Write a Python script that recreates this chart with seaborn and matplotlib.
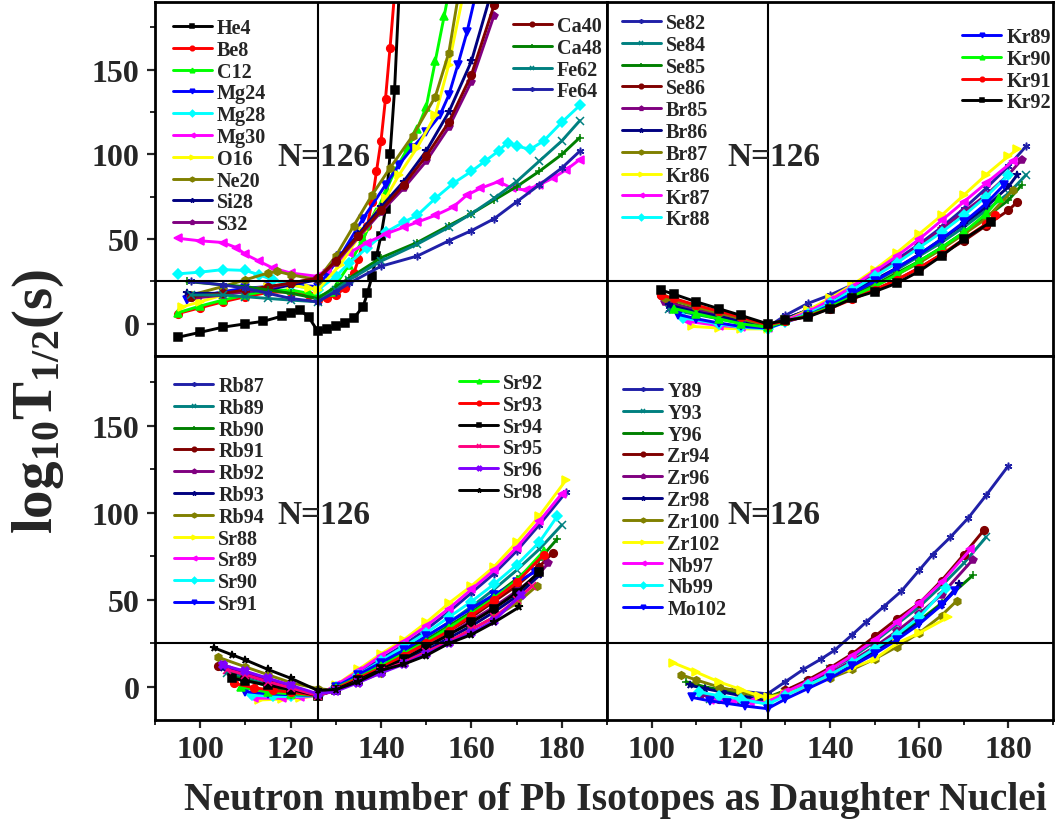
import matplotlib
matplotlib.use("Agg")
import matplotlib.pyplot as plt
import seaborn as sns

# ---------------- data: log10 T1/2 (s) vs neutron number of daughter Pb ----------------
# panel (a) light clusters
He4_N = [95, 100, 105, 110, 114, 118, 120, 122, 124, 126, 128, 130, 132, 134, 136, 137, 138, 139, 140, 141, 142, 143, 144]
He4_T = [-8, -5, -2, 0, 1.5, 4.5, 6.5, 8.3, 4, -4.3, -3, -1.5, 0.5, 3.5, 10, 18, 28, 40, 52, 68, 100, 138, 195]
Be8_N = [95, 100, 105, 110, 115, 120, 124, 126, 128, 130, 132, 134, 135, 137, 138, 139, 140, 141, 142, 143]
Be8_T = [6, 9.5, 13, 16, 18.5, 19, 17, 14, 15, 17, 21, 30, 38, 58, 72, 90, 108, 133, 163, 195]
C12_N = [95, 100, 105, 110, 115, 120, 124, 126, 129, 133, 136, 139, 141, 143, 146, 148, 150, 152, 154, 155]
C12_T = [6.5, 10.5, 14, 17, 19.5, 20, 18, 16, 19, 35, 50, 66, 78, 90, 104, 115, 128, 155, 182, 196]
Mg24_N = [97, 100, 105, 110, 115, 120, 126, 128, 131, 136, 141, 144, 147, 150, 153, 155, 157, 159, 161]
Mg24_T = [14, 16, 19, 21, 22, 23, 22, 29, 40, 62, 82, 94, 104, 113, 123, 135, 153, 172, 195]
Mg28_N = [95, 100, 105, 110, 113, 116, 120, 126, 130, 133, 137, 141, 145, 148, 152, 156, 160, 163, 166, 168, 170, 173, 176, 180, 184]
Mg28_T = [29.5, 30.5, 32, 31.5, 29, 26, 23, 20, 28, 36, 45, 54, 60, 64, 74, 83, 90, 96, 102, 107, 105, 103, 108, 119, 129]
Mg30_N = [95, 100, 105, 108, 110, 113, 116, 120, 126, 128, 133, 137, 141, 145, 148, 152, 156, 159, 162, 166, 169, 172, 175, 178, 181, 184]
Mg30_T = [50.5, 49, 48, 45, 41, 37, 33, 30, 28, 32, 42, 48, 53, 57, 60, 64, 69, 76, 80, 84, 80, 79, 82, 86, 91, 97]
O16_N = [96, 100, 105, 110, 115, 120, 124, 126, 131, 136, 141, 144, 148, 152, 155, 158]
O16_T = [10, 13, 17, 20, 22, 23, 21, 20, 35, 55, 74, 88, 104, 123, 153, 192]
Ne20_N = [98, 105, 110, 115, 117, 120, 126, 130, 134, 138, 142, 147, 152, 155, 157]
Ne20_T = [17, 22, 26, 30, 31, 29, 26, 40, 58, 76, 92, 111, 134, 160, 192]
Si28_N = [97, 105, 110, 115, 120, 126, 130, 135, 140, 145, 150, 155, 160, 164]
Si28_T = [18, 18, 19, 20, 23, 26, 37, 53, 69, 84, 102, 125, 155, 192]
S32_N = [98, 105, 110, 115, 120, 126, 130, 135, 140, 145, 150, 155, 160, 165]
S32_T = [15, 17, 19, 21, 24, 27, 36, 51, 66, 80, 96, 116, 143, 182]
Ca40_N = [98, 105, 110, 115, 120, 126, 130, 135, 140, 145, 150, 155, 160, 165]
Ca40_T = [16, 18, 20, 22, 24, 27, 37, 52, 67, 82, 99, 119, 147, 188]
Ca48_N = [97, 105, 110, 115, 120, 126, 130, 133, 140, 148, 155, 160, 165, 170, 175, 180, 184]
Ca48_T = [25, 23, 22, 20, 18, 15, 22, 27, 39, 48, 58, 65, 73, 81, 90, 100, 110]
Fe62_N = [98, 105, 110, 115, 120, 126, 130, 133, 140, 148, 155, 160, 165, 170, 175, 180, 184]
Fe62_T = [17, 17, 16, 15, 14, 13, 20, 26, 37, 47, 57, 65, 74, 84, 96, 108, 120]
Fe64_N = [98, 105, 110, 115, 120, 126, 130, 133, 140, 148, 155, 160, 165, 170, 175, 180, 184]
Fe64_T = [25, 23, 21, 18, 15, 13, 19, 24, 34, 40, 49, 55, 62, 72, 82, 92, 102]

# panel (b) Se, Br, Kr
Se82_N = [104, 110, 115, 120, 126, 130, 135, 140, 145, 150, 155, 160, 165, 170, 175, 180, 184]
Se82_T = [9, 6, 3.5, 1, -2, 5, 12, 17, 23, 30, 38, 47, 57, 68, 80, 93, 105]
Se84_N = [104, 110, 115, 120, 126, 130, 135, 140, 145, 150, 155, 160, 165, 170, 175, 180, 184]
Se84_T = [8.5, 5.5, 3, 0.5, -2, 3, 8, 13, 19, 25, 32, 40, 48, 57, 67, 77, 88]
Se85_N = [104, 110, 115, 120, 126, 130, 135, 140, 145, 150, 155, 160, 165, 170, 175, 180, 183]
Se85_T = [12.4, 8.5, 5.5, 2.5, -1.5, 2.5, 7, 12, 17, 23, 30, 37, 45, 54, 63, 73, 82]
Se86_N = [102, 105, 110, 115, 120, 126, 130, 135, 140, 145, 150, 155, 160, 165, 170, 175, 180, 182]
Se86_T = [17, 14, 10.5, 7, 3.5, -0.5, 2, 5.5, 10, 15, 20, 26, 33, 41, 49, 58, 67, 72]
Br85_N = [103, 110, 115, 120, 126, 130, 135, 140, 145, 150, 155, 160, 165, 170, 175, 180, 183]
Br85_T = [13, 8, 5, 2, -1.5, 3, 8, 14, 21, 29, 37, 46, 56, 66, 76, 88, 97]
Br86_N = [104, 110, 115, 120, 126, 130, 135, 140, 145, 150, 155, 160, 165, 170, 175, 180, 182]
Br86_T = [11, 7, 4.5, 1.5, -1.5, 3, 8, 13, 19, 26, 33, 41, 50, 59, 69, 81, 88]
Br87_N = [103, 110, 115, 120, 126, 130, 135, 140, 145, 150, 155, 160, 165, 170, 175, 181]
Br87_T = [15, 10, 6.5, 3, -1, 2.5, 6, 11, 16, 22, 29, 36, 44, 53, 62, 79]
Kr86_N = [109, 115, 120, 126, 130, 135, 140, 145, 150, 155, 160, 165, 170, 175, 180, 182]
Kr86_T = [-1.5, -2.5, -3, -3, 2, 8, 15, 23, 32, 42, 53, 64, 76, 88, 99, 103]
Kr87_N = [108, 115, 120, 126, 130, 135, 140, 145, 150, 155, 160, 165, 170, 175, 181]
Kr87_T = [1.5, -1, -2, -2.5, 2, 7, 14, 22, 31, 40, 50, 61, 72, 83, 96]
Kr88_N = [107, 115, 120, 126, 130, 135, 140, 145, 150, 155, 160, 165, 170, 175, 180]
Kr88_T = [3.5, 0, -2, -3, 1, 6, 12, 20, 28, 36, 45, 54, 64, 75, 88]
Kr89_N = [106, 110, 115, 120, 126, 130, 135, 140, 145, 150, 155, 160, 165, 170, 175, 179]
Kr89_T = [5.5, 3, 0.5, -1.5, -2.5, 1, 5, 11, 18, 25, 33, 41, 50, 60, 71, 82]
Kr90_N = [105, 110, 115, 120, 126, 130, 135, 140, 145, 150, 155, 160, 165, 170, 175, 178]
Kr90_T = [9, 6, 3, 0, -2, 1.5, 5, 10, 16, 22, 29, 37, 45, 54, 65, 74]
Kr91_N = [102, 105, 110, 115, 120, 126, 130, 135, 140, 145, 150, 155, 160, 165, 170, 175, 177]
Kr91_T = [17, 15, 11, 7.5, 4, -0.5, 1.5, 4.5, 9, 14.5, 20, 26, 33, 41, 50, 59, 64.5]
Kr92_N = [102, 105, 110, 115, 120, 126, 130, 135, 140, 145, 150, 155, 160, 165, 170, 176]
Kr92_T = [20, 17.5, 13, 9, 5, 0, 2, 4, 9, 15, 19, 24, 31, 40, 50, 60]

# panel (c) Rb, Sr
Rb87_N = [106, 110, 115, 120, 126, 130, 135, 140, 145, 150, 155, 160, 165, 170, 175, 181]
Rb87_T = [9, 5, 1, -2, -5, 0, 8, 16, 24, 33, 43, 54, 65, 78, 93, 112]
Rb89_N = [106, 110, 115, 120, 126, 130, 135, 140, 145, 150, 155, 160, 165, 170, 175, 180]
Rb89_T = [8, 5, 1, -2, -5, 0, 7, 14, 21, 29, 37, 46, 56, 67, 79, 93]
Rb90_N = [107, 110, 115, 120, 126, 130, 135, 140, 145, 150, 155, 160, 165, 170, 175, 179]
Rb90_T = [6, 4, 0.5, -2.5, -5, -0.5, 6, 13, 20, 27, 35, 43, 52, 62, 73, 85]
Rb91_N = [104, 110, 115, 120, 126, 130, 135, 140, 145, 150, 155, 160, 165, 170, 175, 178]
Rb91_T = [12, 7, 3, -1, -5, -1, 5, 11, 18, 25, 32, 40, 49, 58, 69, 77]
Rb92_N = [105, 110, 115, 120, 126, 130, 135, 140, 145, 150, 155, 160, 165, 170, 175, 177]
Rb92_T = [12.8, 8, 4, 0, -5, -1.5, 4, 10, 16, 23, 30, 38, 46, 55, 65, 71]
Rb93_N = [105, 110, 115, 120, 126, 130, 135, 140, 145, 150, 155, 160, 165, 170, 175]
Rb93_T = [11, 7, 3, -0.5, -5, -2, 3.5, 9, 15, 21, 28, 35, 43, 52, 64]
Rb94_N = [104, 110, 115, 120, 126, 130, 135, 140, 145, 150, 155, 160, 165, 170, 174.5]
Rb94_T = [17, 11.5, 7, 2.5, -1, -2, 3, 8, 14, 20, 26, 33, 40, 48, 58]
Sr88_N = [113, 118, 122, 126, 130, 135, 140, 145, 150, 155, 160, 165, 170, 175, 181]
Sr88_T = [-7.5, -7, -6.5, -5, 1, 10, 19, 27, 37, 48, 58, 69, 83, 98, 119]
Sr89_N = [112, 118, 122, 126, 130, 135, 140, 145, 150, 155, 160, 165, 170, 175, 180]
Sr89_T = [-6.5, -6.5, -6, -5, 1, 9, 18, 26, 35, 45, 56, 67, 80, 95, 111]
Sr90_N = [111.5, 116, 120, 126, 130, 135, 140, 145, 150, 155, 160, 165, 170, 175, 179]
Sr90_T = [-4.7, -5.5, -5.5, -5, 0, 7, 15, 23, 31, 40, 49, 59, 70, 83, 98]
Sr91_N = [110, 115, 120, 126, 130, 135, 140, 145, 150, 155, 160, 165, 170, 174]
Sr91_T = [-2.7, -4, -4.5, -5, 0, 7, 14, 21, 29, 37, 45, 53, 60, 66]
Sr92_N = [109, 115, 120, 126, 130, 135, 140, 145, 150, 155, 160, 165, 170, 176]
Sr92_T = [0, -3, -4, -5, -0.5, 5.5, 12, 19, 26, 34, 42, 51, 61, 78]
Sr93_N = [107.5, 112, 116, 120, 126, 130, 135, 140, 145, 150, 155, 160, 165, 170, 176]
Sr93_T = [2, -0.5, -2, -3, -5, -1, 5, 11, 18, 25, 32, 41, 50, 60, 76]
Sr94_N = [107, 110, 115, 120, 126, 130, 135, 140, 145, 150, 155, 160, 165, 170, 175]
Sr94_T = [5, 3.5, 1, -1.5, -5, -1.5, 4, 10, 16, 23, 30, 37, 45, 54, 66]
Sr95_N = [106, 110, 115, 120, 126, 130, 135, 140, 145, 150, 155, 160, 165, 170, 173.5]
Sr95_T = [9.9, 7, 3, -0.5, -5, -2, 3, 9, 14, 20, 26, 33, 40, 50, 58]
Sr96_N = [105, 110, 115, 120, 126, 130, 135, 140, 145, 150, 155, 160, 165, 171]
Sr96_T = [12.5, 9, 5, 1, -4, -2.5, 2.5, 8, 13, 19, 25, 31, 38, 53]
Sr98_N = [103, 107, 110, 115, 120, 126, 130, 135, 140, 145, 150, 155, 160, 165, 170.5]
Sr98_T = [22.5, 18.5, 15.5, 10, 5, -2, -1.5, 3, 9.5, 13, 18, 25, 30, 37, 45.7]

# panel (d) Y, Zr, Nb, Mo
Y89_N = [118, 126, 130, 134, 138, 141, 145, 148, 152, 156, 160, 163, 167, 171, 175, 180]
Y89_T = [-2, -4, 3, 10, 16, 21, 30, 37, 46, 55, 67, 76, 86, 97, 110, 127]
Y93_N = [113, 120, 126, 130, 135, 140, 145, 150, 155, 160, 165, 170, 175]
Y93_T = [-7, -7.5, -8, -3, 3, 10, 17, 26, 36, 46, 58, 71, 86]
Y96_N = [107.7, 112, 116, 120, 126, 130, 135, 140, 145, 150, 155, 160, 165, 172]
Y96_T = [3, 0, -2, -3.5, -6, -2, 3, 8, 14, 21, 29, 38, 48, 64]
Zr94_N = [115, 120, 126, 130, 135, 140, 145, 150, 155, 160, 165, 170, 174.5]
Zr94_T = [-7, -7.5, -8, -2, 4, 11, 19, 29, 39, 48, 61, 76, 90]
Zr96_N = [111, 115, 120, 126, 130, 135, 140, 145, 150, 155, 160, 165, 172]
Zr96_T = [-4.7, -6, -7, -9, -4, 2, 8, 15, 23, 32, 42, 53, 73]
Zr98_N = [108.5, 112, 116, 120, 126, 130, 135, 140, 145, 150, 155, 160, 165, 169]
Zr98_T = [1, -1, -3, -5, -8, -4, 1.5, 7, 13, 20, 28, 37, 47, 59]
Zr100_N = [106.6, 110, 115, 120, 126, 130, 135, 140, 145, 150, 155, 160, 165, 168.5]
Zr100_T = [7, 4, 0, -3, -6, -3, 1, 5, 10, 16, 23, 31, 41, 49.6]
Zr102_N = [104.7, 110, 115, 120, 124, 126, 130, 135, 140, 145, 150, 155, 160, 166.5]
Zr102_T = [14, 8.5, 3, -1.5, -5, -6, -4, 0, 6, 11, 16, 25, 31, 40]
Nb97_N = [113, 118, 122, 126, 130, 135, 140, 145, 150, 155, 160, 165, 171.5]
Nb97_T = [-7.5, -8, -8.5, -9, -3, 3, 10, 18, 27, 37, 48, 60, 79]
Nb99_N = [110.7, 115, 120, 126, 130, 135, 140, 145, 150, 155, 160, 166]
Nb99_T = [-3, -5, -7, -10, -5, 1, 7, 14, 22, 30, 40, 57]
Mo102_N = [109, 113, 117, 121, 126, 130, 135, 140, 145, 150, 155, 160, 165, 168]
Mo102_T = [-6, -8, -9.5, -11, -12.5, -7, -1, 5, 12, 19, 27, 36, 47, 55]

# Origin-style colours and symbols
BLACK, RED, LIME, BLUE = "#000000", "#FF0000", "#00FF00", "#0000FF"
CYAN, MAGENTA, YELLOW, OLIVE = "#00FFFF", "#FF00FF", "#FFFF00", "#808000"
NAVY, PURPLE, WINE, DKGREEN = "#000080", "#800080", "#800000", "#008000"
DKCYAN, ROYAL, PINK, VIOLET = "#008080", "#2020A8", "#FF0080", "#8000FF"
AST = (6, 2, 0)

panel_a = [
    ("He4", He4_N, He4_T, BLACK, "s"), ("Be8", Be8_N, Be8_T, RED, "o"),
    ("C12", C12_N, C12_T, LIME, "^"), ("Mg24", Mg24_N, Mg24_T, BLUE, "v"),
    ("Mg28", Mg28_N, Mg28_T, CYAN, "D"), ("Mg30", Mg30_N, Mg30_T, MAGENTA, "<"),
    ("O16", O16_N, O16_T, YELLOW, ">"), ("Ne20", Ne20_N, Ne20_T, OLIVE, "h"),
    ("Si28", Si28_N, Si28_T, NAVY, "*"), ("S32", S32_N, S32_T, PURPLE, "p"),
    ("Ca40", Ca40_N, Ca40_T, WINE, "o"), ("Ca48", Ca48_N, Ca48_T, DKGREEN, "+"),
    ("Fe62", Fe62_N, Fe62_T, DKCYAN, "x"), ("Fe64", Fe64_N, Fe64_T, ROYAL, AST),
]
panel_b = [
    ("Se82", Se82_N, Se82_T, ROYAL, AST), ("Se84", Se84_N, Se84_T, DKCYAN, "x"),
    ("Se85", Se85_N, Se85_T, DKGREEN, "+"), ("Se86", Se86_N, Se86_T, WINE, "o"),
    ("Br85", Br85_N, Br85_T, PURPLE, "p"), ("Br86", Br86_N, Br86_T, NAVY, "*"),
    ("Br87", Br87_N, Br87_T, OLIVE, "h"), ("Kr86", Kr86_N, Kr86_T, YELLOW, ">"),
    ("Kr87", Kr87_N, Kr87_T, MAGENTA, "<"), ("Kr88", Kr88_N, Kr88_T, CYAN, "D"),
    ("Kr89", Kr89_N, Kr89_T, BLUE, "v"), ("Kr90", Kr90_N, Kr90_T, LIME, "^"),
    ("Kr91", Kr91_N, Kr91_T, RED, "o"), ("Kr92", Kr92_N, Kr92_T, BLACK, "s"),
]
panel_c = [
    ("Rb87", Rb87_N, Rb87_T, ROYAL, AST), ("Rb89", Rb89_N, Rb89_T, DKCYAN, "x"),
    ("Rb90", Rb90_N, Rb90_T, DKGREEN, "+"), ("Rb91", Rb91_N, Rb91_T, WINE, "o"),
    ("Rb92", Rb92_N, Rb92_T, PURPLE, "p"), ("Rb93", Rb93_N, Rb93_T, NAVY, "*"),
    ("Rb94", Rb94_N, Rb94_T, OLIVE, "h"), ("Sr88", Sr88_N, Sr88_T, YELLOW, ">"),
    ("Sr89", Sr89_N, Sr89_T, MAGENTA, "<"), ("Sr90", Sr90_N, Sr90_T, CYAN, "D"),
    ("Sr91", Sr91_N, Sr91_T, BLUE, "v"), ("Sr92", Sr92_N, Sr92_T, LIME, "^"),
    ("Sr93", Sr93_N, Sr93_T, RED, "o"), ("Sr94", Sr94_N, Sr94_T, BLACK, "s"),
    ("Sr95", Sr95_N, Sr95_T, PINK, "x"), ("Sr96", Sr96_N, Sr96_T, VIOLET, "X"),
    ("Sr98", Sr98_N, Sr98_T, BLACK, "*"),
]
panel_d = [
    ("Y89", Y89_N, Y89_T, ROYAL, AST), ("Y93", Y93_N, Y93_T, DKCYAN, "x"),
    ("Y96", Y96_N, Y96_T, DKGREEN, "+"), ("Zr94", Zr94_N, Zr94_T, WINE, "o"),
    ("Zr96", Zr96_N, Zr96_T, PURPLE, "p"), ("Zr98", Zr98_N, Zr98_T, NAVY, "*"),
    ("Zr100", Zr100_N, Zr100_T, OLIVE, "h"), ("Zr102", Zr102_N, Zr102_T, YELLOW, ">"),
    ("Nb97", Nb97_N, Nb97_T, MAGENTA, "<"), ("Nb99", Nb99_N, Nb99_T, CYAN, "D"),
    ("Mo102", Mo102_N, Mo102_T, BLUE, "v"),
]

# ---------------- style ----------------
sns.set_theme(style="ticks")
plt.rcParams["font.family"] = ["Liberation Serif", "DejaVu Serif"]
plt.rcParams["font.weight"] = "bold"
plt.rcParams["mathtext.fontset"] = "custom"
plt.rcParams["mathtext.rm"] = "Liberation Serif:bold"
plt.rcParams["mathtext.bf"] = "Liberation Serif:bold"
plt.rcParams["mathtext.it"] = "Liberation Serif:bold"

W, H = 1056, 829
fig = plt.figure(figsize=(W / 100, H / 100), dpi=100)

# pixel boxes: left, right, top, bottom
boxes = {
    "a": (155, 607, 3, 357),
    "b": (607, 1053, 3, 357),
    "c": (155, 607, 357, 721),
    "d": (607, 1053, 357, 721),
}
legend_font = {"family": "Liberation Serif", "weight": "bold", "size": 14.5}


def make_ax(box):
    l, r, t, b = box
    return fig.add_axes([l / W, 1 - b / H, (r - l) / W, (b - t) / H])


def put_legend(ax, box, handles, labels, x_px, y_px):
    l, r, t, b = box
    leg = ax.legend(handles, labels, loc="upper left",
                    bbox_to_anchor=((x_px - l) / (r - l), 1 - (y_px - t) / (b - t)),
                    frameon=False, borderpad=0, borderaxespad=0,
                    handlelength=1.95, handletextpad=0.25, labelspacing=0.09,
                    markerscale=0.6, prop=legend_font)
    return leg


def draw_panel(key, series, split, leg1, leg2, xmax):
    box = boxes[key]
    ax = make_ax(box)
    for name, n, t, col, mk in series:
        sns.lineplot(x=n, y=t, ax=ax, color=col, marker=mk, markersize=5.5,
                     markeredgecolor=col, markeredgewidth=1.1, linewidth=2.1,
                     label=name, estimator=None, sort=False)
    ax.axvline(126, color="black", lw=1.5, zorder=5)
    ax.axhline(25, color="black", lw=1.5, zorder=5)
    ax.text(127.4, 99, "N=126", ha="center", va="center", fontsize=24,
            fontweight="bold", zorder=6)
    ax.set_xlim(90, xmax)
    ax.set_ylim(-19, 190)
    for s in ax.spines.values():
        s.set_linewidth(2.0)
        s.set_color("black")
    handles, labels = ax.get_legend_handles_labels()
    first = put_legend(ax, box, handles[:split], labels[:split], *leg1)
    if leg2 is not None:
        ax.add_artist(first)
        put_legend(ax, box, handles[split:], labels[split:], *leg2)
    return ax


ax_a = draw_panel("a", panel_a, 10, (172.7, 19), (512.7, 17), 190)
ax_b = draw_panel("b", panel_b, 10, (621.7, 14), (962, 28), 189)
ax_c = draw_panel("c", panel_c, 11, (174, 377), (459, 374), 190)
ax_d = draw_panel("d", panel_d, 11, (623, 382), None, 189)

for ax in (ax_a, ax_b, ax_c, ax_d):
    ax.set_xticks([100, 120, 140, 160, 180])
    ax.set_xticks(range(90, 191, 10), minor=True)
    ax.set_yticks([0, 50, 100, 150])
    ax.set_yticks([25, 75, 125, 175], minor=True)
    ax.tick_params(which="major", direction="out", length=6, width=1.6,
                   labelsize=23, pad=5)
    ax.tick_params(which="minor", direction="out", length=3.5, width=1.4)
    ax.set_xlabel("")
    ax.set_ylabel("")
    for lab in ax.get_xticklabels() + ax.get_yticklabels():
        lab.set_fontweight("bold")

for ax in (ax_a, ax_b):
    ax.tick_params(axis="x", which="both", bottom=False, labelbottom=False)
for ax in (ax_b, ax_d):
    ax.tick_params(axis="y", which="both", left=False, labelleft=False)

fig.text(38 / W, 1 - 402 / H, r"$\mathbf{log_{10}T_{1/2}(s)}$", rotation=90,
         ha="center", va="center", fontsize=41)
fig.text(615 / W, 1 - 801 / H, "Neutron number of Pb Isotopes as Daughter Nuclei",
         ha="center", va="center", fontsize=28.5, fontweight="bold")

fig.savefig("out.png", dpi=100)
